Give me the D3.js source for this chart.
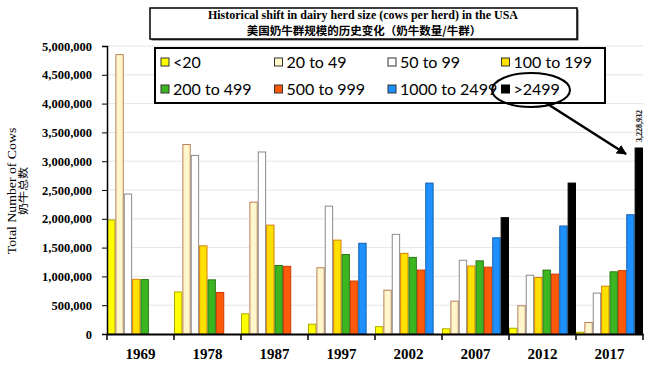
<!DOCTYPE html>
<html>
<head>
<meta charset="utf-8">
<script src="https://cdn.jsdelivr.net/npm/d3@7"></script>
<style>
  body { margin: 0; background: #fff; }
  svg { display: block; }
</style>
</head>
<body>
<div id="chart"></div>
<script>
// datos
const years = ["1969", "1978", "1987", "1997", "2002", "2007", "2012", "2017"];
const sizes = ["<20", "20 to 49", "50 to 99", "100 to 199", "200 to 499", "500 to 999", "1000 to 2499", ">2499"];

const lt20      = [1980000,  730000,  350000,  170000,  127000,   90000,  100000,   30000];
const s20to49   = [4850000, 3290000, 2290000, 1150000,  760000,  570000,  490000,  200000];
const s50to99   = [2430000, 3100000, 3160000, 2220000, 1730000, 1280000, 1020000,  710000];
const s100to199 = [ 950000, 1530000, 1890000, 1630000, 1400000, 1180000,  980000,  830000];
const s200to499 = [ 945000,  940000, 1190000, 1380000, 1330000, 1270000, 1110000, 1080000];
const s500to999 = [   null,  720000, 1175000,  920000, 1110000, 1160000, 1040000, 1100000];
const s1000to2499 = [ null,    null,    null, 1575000, 2620000, 1670000, 1875000, 2070000];
const gt2499    = [   null,    null,    null,    null,    null, 2020000, 2620000, 3228932];

const series = [lt20, s20to49, s50to99, s100to199, s200to499, s500to999, s1000to2499, gt2499];
const fills   = ["#ffff00", "#fff6cc", "#ffffff", "#ffe100", "#3cb521", "#ff5a0a", "#1e90ff", "#000000"];
const strokes = ["#b0a800", "#b8805a", "#8a8a8a", "#d98000", "#2b7a16", "#c83c00", "#1060b0", "#000000"];
const yTicks = d3.range(0, 5000001, 500000);

const W = 650, H = 372;
const svg = d3.select("#chart").append("svg").attr("width", W).attr("height", H);

const x0 = d3.scaleBand().domain(years).range([107, 643]).padding(0);
const x1 = d3.scaleBand().domain(sizes).range([0, x0.bandwidth()]).padding(0);
const y = d3.scaleLinear().domain([0, 5000000]).range([334, 46]);

// rejilla
svg.append("g").selectAll("line").data(yTicks.slice(1)).enter().append("line")
  .attr("x1", 107).attr("x2", 643)
  .attr("y1", d => y(d)).attr("y2", d => y(d))
  .attr("stroke", "#e6e6e6").attr("stroke-width", 1);

// barras
const bars = [];
series.forEach((vals, si) => vals.forEach((v, yi) => {
  if (v != null) bars.push({ year: years[yi], size: sizes[si], si, v });
}));
svg.append("g").selectAll("rect").data(bars).enter().append("rect")
  .attr("x", d => x0(d.year) + x1(d.size) + 0.5)
  .attr("width", x1.bandwidth() - 1)
  .attr("y", d => y(d.v))
  .attr("height", d => y(0) - y(d.v))
  .attr("fill", d => fills[d.si])
  .attr("stroke", d => strokes[d.si])
  .attr("stroke-width", 1);

// ejes
const yAxis = svg.append("g").attr("transform", "translate(107,0)")
  .call(d3.axisLeft(y).tickValues(yTicks).tickSize(5).tickPadding(10).tickFormat(d3.format(",")));
yAxis.select(".domain").attr("stroke", "#000").attr("stroke-width", 1.5);
yAxis.selectAll("text").attr("font-family", "'Liberation Serif', 'DejaVu Serif', serif")
  .attr("font-weight", "bold").attr("font-size", 12.5).attr("fill", "#000");

const xAxis = svg.append("g").attr("transform", "translate(0,334)")
  .call(d3.axisBottom(x0).tickSize(0).tickPadding(14));
xAxis.select(".domain").attr("stroke", "#000").attr("stroke-width", 2);
xAxis.selectAll("text").attr("font-family", "'Liberation Serif', serif")
  .attr("font-weight", "bold").attr("font-size", 15).attr("fill", "#000");
svg.append("g").selectAll("line").data(years.concat(["end"])).enter().append("line")
  .attr("x1", (d, i) => 107 + i * x0.bandwidth()).attr("x2", (d, i) => 107 + i * x0.bandwidth())
  .attr("y1", 334).attr("y2", 340).attr("stroke", "#000").attr("stroke-width", 1.5);

// título eje Y
const yt = svg.append("text").attr("transform", "translate(16,191) rotate(-90) scale(1.15,1)")
  .attr("text-anchor", "middle").attr("font-family", "'Liberation Serif', serif")
  .attr("font-size", 12).attr("fill", "#000");
yt.append("tspan").attr("x", 0).attr("dy", 0).text("Total Number of Cows");
yt.append("tspan").attr("x", 0).attr("dy", 11).attr("font-size", 10.5)
  .attr("font-family", "'Noto Sans CJK SC', sans-serif").text("奶牛总数");

// título
svg.append("rect").attr("x", 151.5).attr("y", 9.5).attr("width", 427).attr("height", 31)
  .attr("fill", "#555");
svg.append("rect").attr("x", 150).attr("y", 8).attr("width", 427).attr("height", 31)
  .attr("fill", "#fff").attr("stroke", "#000").attr("stroke-width", 1.5);
svg.append("text").attr("x", 363).attr("y", 19).attr("text-anchor", "middle")
  .attr("font-family", "'Liberation Serif', serif").attr("font-weight", "bold").attr("font-size", 12)
  .text("Historical shift in dairy herd size (cows per herd) in the USA");
svg.append("text").attr("x", 364).attr("y", 34.5).attr("text-anchor", "middle")
  .attr("font-family", "'Noto Sans CJK SC', sans-serif").attr("font-weight", "bold").attr("font-size", 11.5)
  .text("美国奶牛群规模的历史变化（奶牛数量/牛群）");

// leyenda
svg.append("rect").attr("x", 155).attr("y", 48).attr("width", 450).attr("height", 55)
  .attr("fill", "#fff").attr("stroke", "#000").attr("stroke-width", 2);
const leg = svg.append("g").selectAll("g").data(sizes).enter().append("g")
  .attr("transform", (d, i) => `translate(${161 + (i % 4) * 113.5},${62 + Math.floor(i / 4) * 27})`);
leg.append("rect").attr("x", 0).attr("y", -4).attr("width", 8).attr("height", 8)
  .attr("fill", (d, i) => fills[i]).attr("stroke", (d, i) => i === 7 ? "#000" : "#333").attr("stroke-width", 1);
leg.append("text").attr("x", 12).attr("y", 5.5)
  .attr("font-family", "Lato, 'Open Sans', sans-serif").attr("font-size", 16).attr("fill", "#000")
  .text(d => d);

// elipse y flecha
svg.append("ellipse").attr("cx", 531).attr("cy", 90).attr("rx", 39).attr("ry", 17)
  .attr("fill", "none").attr("stroke", "#000").attr("stroke-width", 2);
svg.append("defs").append("marker").attr("id", "ah").attr("viewBox", "0 0 10 10")
  .attr("refX", 9).attr("refY", 5).attr("markerWidth", 4).attr("markerHeight", 4).attr("orient", "auto")
  .append("path").attr("d", "M0,0 L10,5 L0,10 z").attr("fill", "#000");
svg.append("line").attr("x1", 546).attr("y1", 103).attr("x2", 626).attr("y2", 154)
  .attr("stroke", "#000").attr("stroke-width", 2.5).attr("marker-end", "url(#ah)");

// etiqueta del valor
const last = gt2499[gt2499.length - 1];
svg.append("text")
  .attr("transform", `translate(${x0("2017") + x1(">2499") + x1.bandwidth() / 2 + 3},${y(last) - 6}) rotate(-90)`)
  .attr("font-family", "'Liberation Serif', serif").attr("font-weight", "bold").attr("font-size", 8)
  .text(d3.format(",")(last));
</script>
</body>
</html>
